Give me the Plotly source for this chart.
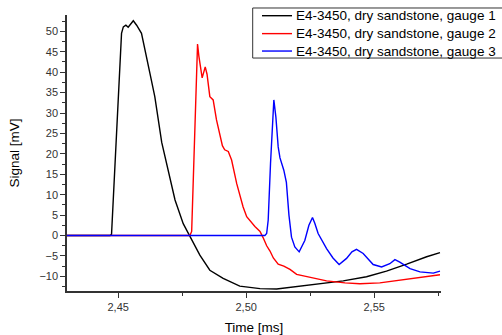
import plotly.graph_objects as go

# ---- data (time in ms, signal in mV) ----
t_g1 = [2.4300, 2.4468, 2.4474, 2.4494, 2.4513, 2.4520, 2.4530, 2.4539, 2.4559, 2.4572,
        2.4591, 2.4624, 2.4643, 2.4670, 2.4695, 2.4722, 2.4754, 2.4780, 2.4819, 2.4858,
        2.4910, 2.4975, 2.5054, 2.5119, 2.5184, 2.5262, 2.5379, 2.5470, 2.5548, 2.5627,
        2.5705, 2.5757]
v_g1 = [0.0, 0.0, 0.3, 25.0, 49.5, 51.1, 51.5, 51.0, 52.6, 51.5,
        49.5, 39.7, 34.0, 22.8, 16.0, 8.7, 2.9, -0.3, -4.8, -8.5,
        -10.5, -12.4, -13.0, -13.1, -12.6, -12.0, -11.1, -10.1, -8.7, -7.0,
        -5.2, -4.2]

t_g2 = [2.4300, 2.4780, 2.4787, 2.4796, 2.4803, 2.4810, 2.4815, 2.4828, 2.4840, 2.4847,
        2.4858, 2.4871, 2.4884, 2.4907, 2.4916, 2.4930, 2.4943, 2.4963, 2.4988, 2.5002,
        2.5034, 2.5054, 2.5066, 2.5080, 2.5093, 2.5106, 2.5125, 2.5147, 2.5171, 2.5197,
        2.5233, 2.5262, 2.5314, 2.5386, 2.5444, 2.5522, 2.5581, 2.5627, 2.5705, 2.5757]
v_g2 = [0.0, 0.0, 1.0, 20.0, 38.0, 46.9, 44.0, 38.6, 41.3, 39.5,
        34.0, 33.2, 28.3, 22.0, 21.0, 20.6, 18.5, 12.7, 7.0, 4.6,
        2.2, 1.0, -0.5, -2.5, -3.8, -5.5, -7.0, -7.5, -8.3, -9.5,
        -10.0, -10.4, -11.1, -11.6, -11.8, -11.6, -11.1, -10.6, -10.0, -9.6]

t_g3 = [2.4300, 2.5073, 2.5080, 2.5086, 2.5095, 2.5103, 2.5108, 2.5116, 2.5125, 2.5132,
        2.5147, 2.5157, 2.5167, 2.5177, 2.5190, 2.5207, 2.5229, 2.5245, 2.5259, 2.5268,
        2.5281, 2.5314, 2.5339, 2.5363, 2.5392, 2.5413, 2.5431, 2.5457, 2.5496, 2.5529,
        2.5561, 2.5581, 2.5600, 2.5640, 2.5679, 2.5731, 2.5757]
v_g3 = [0.0, 0.0, 0.5, 3.8, 17.6, 29.9, 33.2, 29.0, 21.7, 19.0,
        16.0, 13.0, 5.0, -0.4, -2.8, -4.0, -1.2, 2.5, 4.4, 3.0,
        0.5, -3.2, -5.5, -7.1, -5.6, -4.0, -3.4, -4.4, -7.1, -7.7,
        -6.9, -5.9, -6.5, -8.1, -8.9, -9.2, -8.7]

names = ["E4-3450, dry sandstone, gauge 1",
         "E4-3450, dry sandstone, gauge 2",
         "E4-3450, dry sandstone, gauge 3"]
colors = ["#000000", "#ff0000", "#0000ff"]

x_ticks = [2.45, 2.50, 2.55]
x_ticktext = ["2,45", "2,50", "2,55"]
x_minor = [2.475, 2.525, 2.575]

# ---- layout geometry (pixels of the 502x335 picture) ----
W, H = 512, 335
PL, PR, PT, PB = 67, 441, 15, 290.7   # plot area edges


def px(xp):
    return (xp - PL) / (PR - PL)


def py(yp):
    return (PB - yp) / (PB - PT)


fig = go.Figure()
for t, v, n, c in zip([t_g1, t_g2, t_g3], [v_g1, v_g2, v_g3], names, colors):
    fig.add_trace(go.Scatter(x=t, y=v, mode="lines", name=n, showlegend=False,
                             line=dict(color=c, width=1.4)))

# legend box (Origin-style), runs past the right edge of the window
shapes = [dict(type="rect", xref="paper", yref="paper", layer="above",
               x0=px(252.7), x1=px(W + 5), y0=py(58), y1=py(8),
               line=dict(color="#333333", width=1), fillcolor="white")]
annotations = []
row_y = [15.7, 33.6, 51.0]
for n, c, ry in zip(names, colors, row_y):
    shapes.append(dict(type="line", xref="paper", yref="paper", layer="above",
                       x0=px(262), x1=px(292), y0=py(ry), y1=py(ry),
                       line=dict(color=c, width=1.4)))
    annotations.append(dict(text=n, xref="paper", yref="paper", showarrow=False,
                            x=px(294), y=py(ry), xanchor="left", yanchor="middle",
                            font=dict(family="Liberation Sans, Arial", size=13.5,
                                      color="#000000")))

axis_common = dict(showgrid=False, zeroline=False, showline=True, automargin=False,
                   linecolor="#333333", linewidth=1.5, ticks="outside",
                   ticklen=5, tickwidth=1.3, tickcolor="#333333",
                   tickfont=dict(family="Liberation Sans, Arial", size=11, color="#333333"),
                   mirror=False)

fig.update_layout(
    width=W, height=H,
    margin=dict(l=PL, r=W - PR, t=PT, b=H - PB, autoexpand=False),
    paper_bgcolor="white", plot_bgcolor="white",
    separators=", ",
    font=dict(family="Liberation Sans, Arial", color="#000000"),
    xaxis=dict(range=[2.4300, 2.5761], tickmode="array",
               tickvals=x_ticks, ticktext=x_ticktext,
               minor=dict(ticks="outside", ticklen=3, tickwidth=1.2, tickcolor="#333333",
                          tickvals=x_minor),
               title=dict(text="Time [ms]", font=dict(size=13.5), standoff=13),
               **axis_common),
    yaxis=dict(range=[-13.58, 54.0], tickmode="linear", tick0=-10, dtick=5,
               minor=dict(ticks="outside", ticklen=3, tickwidth=1.2, tickcolor="#333333",
                          tick0=-12.5, dtick=5),
               title=dict(text="Signal [mV]", font=dict(size=13.5), standoff=17),
               **axis_common),
    shapes=shapes,
    annotations=annotations,
    showlegend=False,
)

fig.write_html(
    "out.html",
    config={"displayModeBar": False},
    post_script="document.body.style.margin='0';document.body.style.overflow='hidden';"
                "document.documentElement.style.overflow='hidden';",
)
